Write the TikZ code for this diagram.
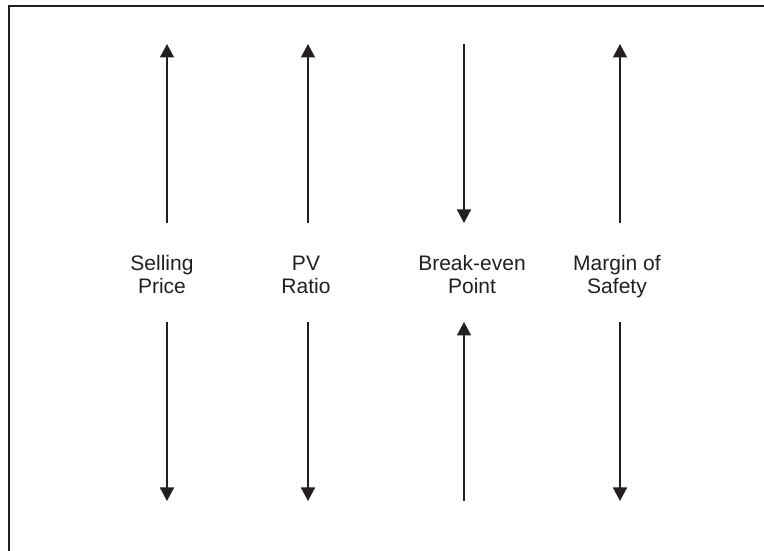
\documentclass[tikz,border=0pt]{standalone}
\usepackage{fontspec}
\setmainfont{Liberation Sans}
\usetikzlibrary{arrows.meta}
\definecolor{inkblack}{HTML}{231F20}
\tikzset{
  factor/.style={draw=none, align=center, inner sep=0pt, anchor=north, text=inkblack, font=\fontsize{21}{23}\selectfont},
  upline/.style={-{Triangle[length=13.5pt, width=14pt]}, line width=1.6pt, draw=inkblack},
  frame/.style={line width=2pt, draw=inkblack}
}

\begin{document}
\begin{tikzpicture}[x=1pt, y=1pt]
\useasboundingbox (0,0) rectangle (764,551);

% frame (top and left edges only)
\coordinate (fbl) at (9,0);
\coordinate (ftl) at (9,545);
\coordinate (ftr) at (764,545);
\draw[frame] (fbl) -- (ftl) -- (ftr);

% labels
\node[factor] (sp) at (162,295.5) {Selling\\Price};
\node[factor] (pv) at (306,295.5) {PV\\Ratio};
\node[factor] (be) at (472,295.5) {Break-even\\Point};
\node[factor] (ms) at (617,295.5) {Margin of\\Safety};

% arrow ends
\foreach \n/\x in {sp/167, pv/308, be/464, ms/620} {
  \coordinate (\n-top) at (\x,507);
  \coordinate (\n-upper) at (\x,328);
  \coordinate (\n-lower) at (\x,229);
  \coordinate (\n-bot) at (\x,50);
}

% rises above, falls below
\foreach \n in {sp, pv, ms} {
  \draw[upline] (\n-upper) -- (\n-top);
  \draw[upline] (\n-lower) -- (\n-bot);
}

% break-even point moves the other way
\draw[upline] (be-top) -- (be-upper);
\draw[upline] (be-bot) -- (be-lower);

\end{tikzpicture}
\end{document}
